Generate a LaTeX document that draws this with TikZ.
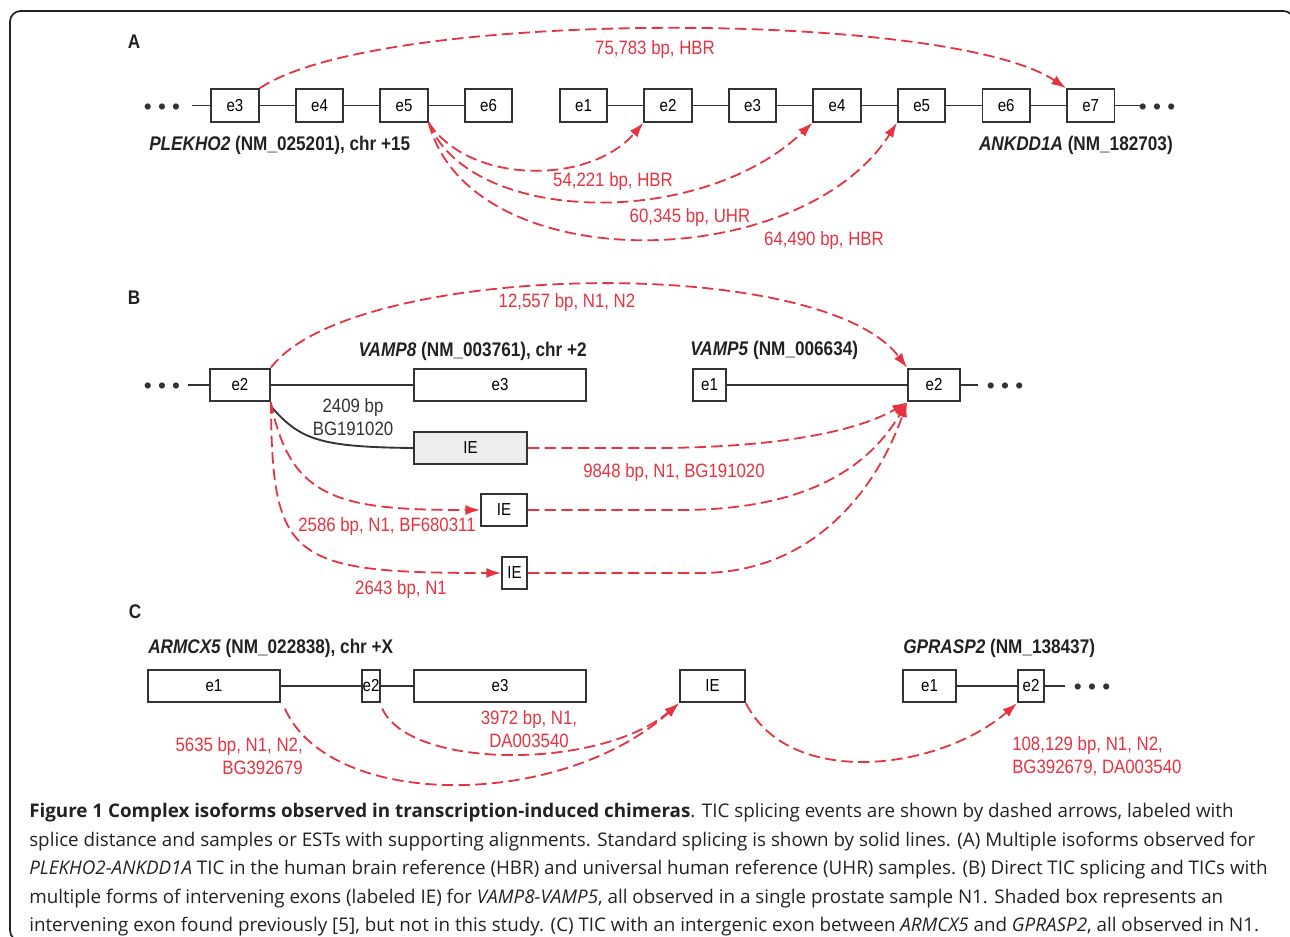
\documentclass[tikz,border=0pt]{standalone}
\usepackage{fontspec}
\setmainfont{Liberation Sans}
\newfontfamily\condfont[FakeStretch=0.87]{Liberation Sans}
\newfontfamily\capfont{Open Sans}
\usetikzlibrary{arrows.meta,positioning}
\definecolor{TicRed}{HTML}{E63340}
\definecolor{Tinta}{HTML}{333333}
\definecolor{Sombra}{HTML}{EDEDED}
\definecolor{Marco}{HTML}{222222}
\newcommand{\lblfont}{\condfont\fontsize{14.5pt}{17.25pt}\selectfont}
\newcommand{\exfont}{\condfont\fontsize{13pt}{14pt}\selectfont}
\newcommand{\genefont}{\condfont\bfseries\fontsize{14.8pt}{17pt}\selectfont}
\newcommand{\dotfont}{\fontsize{17pt}{18pt}\selectfont}
\newcommand{\capsize}{\capfont\fontsize{14.1pt}{21.4pt}\selectfont}

\begin{document}
\begin{tikzpicture}[x=0.75pt,y=-0.75pt,
    node distance=26.4pt,
    exon/.style={draw=Tinta,line width=1.4pt,fill=white,minimum width=#1,minimum height=24.5pt,inner sep=0pt,font=\exfont},
    exon/.default=35.6pt,
    shaded/.style={exon=#1,fill=Sombra},
    intron/.style={draw=Tinta,line width=1.4pt},
    tic/.style={draw=TicRed,line width=1.35pt,dash pattern=on 8.5pt off 4pt,-{Latex[length=11pt,width=7.5pt]}},
    ticlbl/.style={text=TicRed,font=\lblfont,inner sep=0pt},
    gene/.style={text=Marco,font=\genefont,inner sep=0pt},
    dots/.style={text=Tinta,font=\dotfont,inner sep=0pt,yshift=-2.5pt},
    panel/.style={text=Marco,font=\genefont,inner sep=0pt}]
    \useasboundingbox (0,0) rectangle (1290,937);
    \draw[Marco,line width=1.3pt,rounded corners=8pt] (10,11) rectangle (1294,941);

    % A: PLEKHO2 - ANKDD1A
    \node[panel] (lblA) at (134,42) {A};
    \node[dots] (dotsA) at (162,105.5) {• • •};
    \coordinate (leadA) at (192,105.5);
    \node[exon] (pe3) at (235,105.5) {e3};
    \node[exon,right=of pe3] (pe4) {e4};
    \node[exon,right=of pe4] (pe5) {e5};
    \node[exon,right=of pe5] (pe6) {e6};
    \node[exon] (ae1) at (583.5,105.5) {e1};
    \node[exon,right=of ae1] (ae2) {e2};
    \node[exon,right=of ae2] (ae3) {e3};
    \node[exon,right=of ae3] (ae4) {e4};
    \node[exon,right=of ae4] (ae5) {e5};
    \node[exon,right=of ae5] (ae6) {e6};
    \node[exon,right=of ae6] (ae7) {e7};
    \coordinate[right=18.75pt of ae7.east] (tailA);
    \node[dots] (dotsA2) at (1157,105.5) {• • •};
    \draw[intron] (leadA) -- (pe3) -- (pe4) -- (pe5) -- (pe6);
    \draw[intron] (ae1) -- (ae2) -- (ae3) -- (ae4) -- (ae5) -- (ae6) -- (ae7) -- (tailA);
    \node[gene,anchor=west] (plekho) at (149,145) {\textit{PLEKHO2} (NM\_025201), chr +15};
    \node[gene,anchor=east] (ankdd) at (1173,145) {\textit{ANKDD1A} (NM\_182703)};
    \draw[tic] (pe3.north east) .. controls (380,8) and (950,10) .. (ae7.north west);
    \draw[tic] (pe5.south east) .. controls (470,185) and (590,185) .. (ae2.south west);
    \draw[tic] (pe5.south east) .. controls (470,225) and (700,230) .. (ae4.south west);
    \draw[tic] (pe5.south east) .. controls (470,280) and (800,275) .. (ae5.south west);
    \node[ticlbl] (sA1) at (655,50) {75,783 bp, HBR};
    \node[ticlbl] (sA2) at (613,182) {54,221 bp, HBR};
    \node[ticlbl] (sA3) at (690,218) {60,345 bp, UHR};
    \node[ticlbl] (sA4) at (824,241) {64,490 bp, HBR};

    % B: VAMP8 - VAMP5
    \node[panel] (lblB) at (134,298) {B};
    \node[dots] (dotsB) at (162,385) {• • •};
    \coordinate (leadB) at (188,385);
    \node[exon=45pt] (ve2) at (240,385) {e2};
    \node[exon=129pt] (ve3) at (500,385) {e3};
    \node[exon=24.75pt] (we1) at (709.5,385) {e1};
    \node[exon=39pt] (we2) at (934,385) {e2};
    \coordinate (tailB) at (978,385);
    \node[dots] (dotsB2) at (1005,385) {• • •};
    \node[shaded=84.75pt] (ie1) at (470.5,448) {IE};
    \node[exon=34.5pt] (ie2) at (504,510) {IE};
    \node[exon=18.75pt] (ie3) at (514.5,573) {IE};
    \draw[intron] (leadB) -- (ve2) -- (ve3);
    \draw[intron] (we1) -- (we2) -- (tailB);
    \draw[intron] ([yshift=-3pt]ve2.south east) .. controls (300,440) and (320,447) .. (ie1.west);
    \node[gene,anchor=east] (vamp8) at (587,351) {\textit{VAMP8} (NM\_003761), chr +2};
    \node[gene,anchor=west] (vamp5) at (690,350) {\textit{VAMP5} (NM\_006634)};
    \node[text=Tinta,font=\lblfont,align=center,inner sep=0pt] (bg19) at (353,417) {2409 bp\\BG191020};
    \draw[tic] (ve2.north east) .. controls (350,262) and (820,252) .. (we2.north west);
    \draw[tic] (ve2.south east) .. controls (290,500) and (340,510) .. (ie2.west);
    \draw[tic] (ve2.south east) .. controls (272,560) and (290,573) .. (ie3.west);
    \draw[tic] (ie1.east) -- (640,448) .. controls (780,449) and (860,430) .. (we2.south west);
    \draw[tic] (ie2.east) -- (680,510) .. controls (810,510) and (870,465) .. (we2.south west);
    \draw[tic] (ie3.east) -- (700,573) .. controls (820,573) and (880,480) .. (we2.south west);
    \node[ticlbl] (sB1) at (567,303) {12,557 bp, N1, N2};
    \node[ticlbl] (sB2) at (674,473) {9848 bp, N1, BG191020};
    \node[ticlbl] (sB3) at (387,527) {2586 bp, N1, BF680311};
    \node[ticlbl] (sB4) at (401,590) {2643 bp, N1};

    % C: ARMCX5 - GPRASP2
    \node[panel] (lblC) at (135,612) {C};
    \node[gene,anchor=west] (armcx) at (148,648) {\textit{ARMCX5} (NM\_022838), chr +X};
    \node[gene,anchor=west] (gprasp) at (903,648) {\textit{GPRASP2} (NM\_138437)};
    \node[exon=99pt] (xe1) at (214,686) {e1};
    \node[exon=13.5pt] (xe2) at (371,686) {e2};
    \node[exon=129pt] (xe3) at (500,686) {e3};
    \node[exon=48.75pt] (ie4) at (712.5,686) {IE};
    \node[exon=39.75pt] (ge1) at (929.5,686) {e1};
    \node[exon=19.5pt] (ge2) at (1031,686) {e2};
    \coordinate (tailC) at (1065,686);
    \node[dots] (dotsC) at (1092,686) {• • •};
    \draw[intron] (xe1) -- (xe2) -- (xe3);
    \draw[intron] (ge1) -- (ge2) -- (tailC);
    \draw[tic] ([xshift=3pt,yshift=-4pt]xe1.south east) .. controls (330,810) and (560,810) .. (ie4.south west);
    \draw[tic] ([xshift=1pt,yshift=-4pt]xe2.south east) .. controls (410,770) and (600,770) .. (ie4.south west);
    \draw[tic] (ie4.south east) .. controls (790,790) and (940,770) .. (ge2.south west);
    \node[ticlbl,align=center] (sC1) at (529,729) {3972 bp, N1,\\DA003540};
    \node[ticlbl,align=right,anchor=east] (sC2) at (303,756) {5635 bp, N1, N2,\\BG392679};
    \node[ticlbl,align=left,anchor=west] (sC3) at (1012,756) {108,129 bp, N1, N2,\\BG392679, DA003540};

    % caption
    \node[font=\capsize,text=Marco,align=left,anchor=north west,inner sep=0pt] (caption) at (29,803) {%
      \textbf{Figure 1 Complex isoforms observed in transcription-induced chimeras}. TIC splicing events are shown by dashed arrows, labeled with\\
      splice distance and samples or ESTs with supporting alignments. Standard splicing is shown by solid lines. (A) Multiple isoforms observed for\\
      \textit{PLEKHO2-ANKDD1A} TIC in the human brain reference (HBR) and universal human reference (UHR) samples. (B) Direct TIC splicing and TICs with\\
      multiple forms of intervening exons (labeled IE) for \textit{VAMP8-VAMP5}, all observed in a single prostate sample N1. Shaded box represents an\\
      intervening exon found previously [5], but not in this study. (C) TIC with an intergenic exon between \textit{ARMCX5} and \textit{GPRASP2}, all observed in N1.};
\end{tikzpicture}
\end{document}
